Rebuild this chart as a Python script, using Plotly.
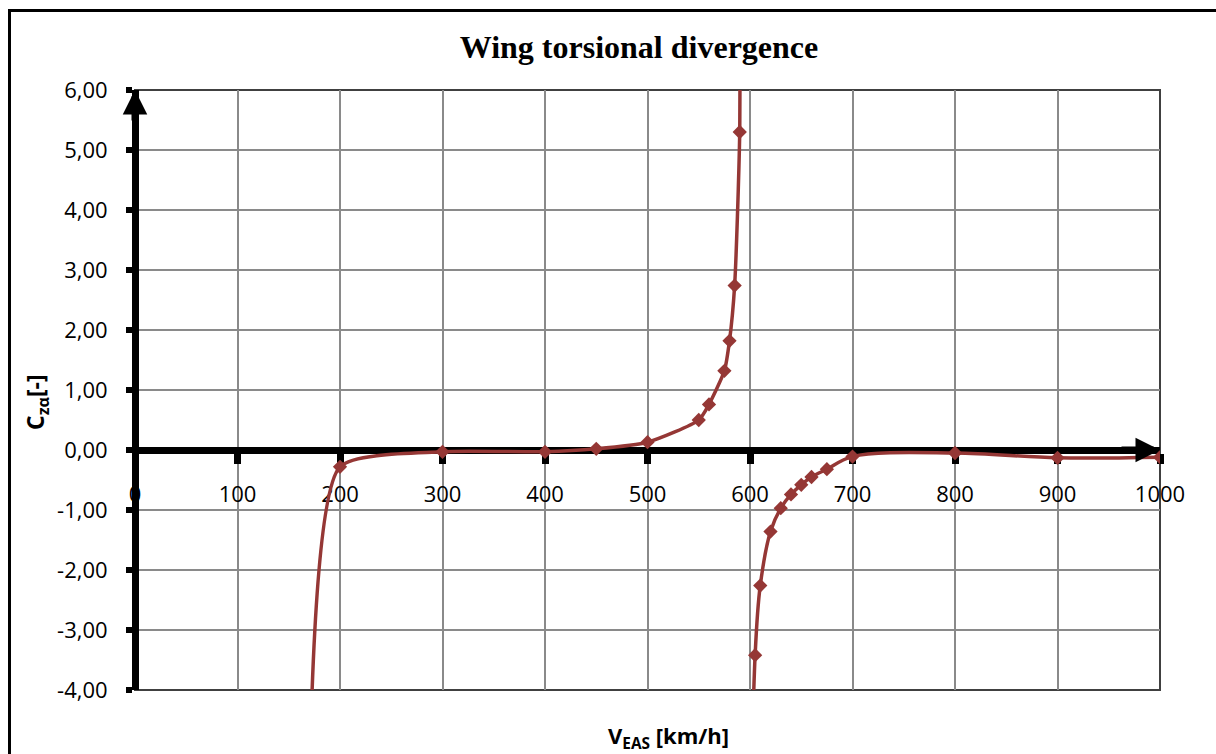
import plotly.graph_objects as go

# ---- data ----
# left branch (below divergence speed); first and last points lie off the visible range
v_left = [172, 200, 300, 400, 450, 500, 550, 560, 575, 580, 585, 590, 594]
cz_left = [-4.4, -0.28, -0.03, -0.03, 0.02, 0.13, 0.50, 0.76, 1.32, 1.82, 2.74, 5.30, 20.0]
# right branch (above divergence speed); first point lies off the visible range
v_right = [600, 605, 610, 620, 630, 640, 650, 660, 675, 700, 800, 900, 1000]
cz_right = [-7.0, -3.42, -2.26, -1.36, -0.97, -0.74, -0.58, -0.45, -0.32, -0.11, -0.05, -0.13, -0.12]

x_ticks = [0, 100, 200, 300, 400, 500, 600, 700, 800, 900, 1000]
x_tick_labels = ["0", "100", "200", "300", "400", "500", "600", "700", "800", "900", "1000"]
y_ticks = [-4, -3, -2, -1, 0, 1, 2, 3, 4, 5, 6]
y_tick_labels = ["-4,00", "-3,00", "-2,00", "-1,00", "0,00", "1,00", "2,00", "3,00", "4,00", "5,00", "6,00"]

RED = "#953735"
GRID = "#8a8a8a"
FONT = "Open Sans"

fig = go.Figure()
for xs, ys, sm in ((v_left, cz_left, 0.6), (v_right, cz_right, 1.0)):
    fig.add_trace(go.Scatter(
        x=xs, y=ys, mode="lines+markers",
        line=dict(color=RED, width=3.5, shape="spline", smoothing=sm),
        marker=dict(symbol="diamond", size=11, color=RED),
        cliponaxis=True, showlegend=False,
    ))

fig.update_layout(
    width=1216, height=754,
    margin=dict(l=135, r=56, t=90, b=64, pad=0),
    paper_bgcolor="white", plot_bgcolor="white",
    showlegend=False,
    title=dict(text="<b>Wing torsional divergence</b>", x=639 / 1216, xanchor="center",
               y=1 - 47 / 754, yanchor="middle", xref="container", yref="container",
               font=dict(family="Liberation Serif", size=32, color="black")),
)

fig.update_xaxes(
    range=[0, 1000], tickvals=x_ticks, ticktext=x_tick_labels,
    anchor="free", position=0.4, layer="below traces",
    showline=True, linecolor="black", linewidth=7,
    ticks="outside", ticklen=10, tickwidth=7, tickcolor="black",
    ticklabelstandoff=12,
    showgrid=True, gridcolor=GRID, gridwidth=2, zeroline=False,
    tickfont=dict(family=FONT, size=22, color="black"),
)
fig.update_yaxes(
    range=[-4, 6], tickvals=y_ticks, ticktext=y_tick_labels,
    anchor="free", position=0, layer="below traces",
    showline=True, linecolor="black", linewidth=7,
    ticks="outside", ticklen=6, tickwidth=6, tickcolor="black",
    ticklabelstandoff=14,
    showgrid=True, gridcolor=GRID, gridwidth=2, zeroline=False,
    tickfont=dict(family=FONT, size=22, color="black"),
)

# plot-area frame and outer chart frame
fig.add_shape(type="rect", xref="x domain", yref="y domain", x0=0, x1=1, y0=0, y1=1,
              line=dict(color="#404040", width=2), layer="below")
fig.add_shape(type="rect", xref="paper", yref="paper",
              x0=-125.5 / 1025, x1=1.2, y0=-0.3, y1=(690 - 10.5) / 600,
              line=dict(color="black", width=3))

# axis arrows
fig.add_annotation(x=0, y=6, xref="x", yref="y", ax=0, ay=32, axref="pixel", ayref="pixel",
                   text="", showarrow=True, arrowhead=2, arrowwidth=7, arrowsize=0.7,
                   arrowcolor="black", standoff=0)
fig.add_annotation(x=1000, y=0, xref="x", yref="y", ax=-40, ay=0, axref="pixel", ayref="pixel",
                   text="", showarrow=True, arrowhead=2, arrowwidth=7, arrowsize=0.7,
                   arrowcolor="black", standoff=0)

# axis titles
fig.add_annotation(x=(668 - 135) / 1025, y=-(737 - 690) / 600, xref="paper", yref="paper",
                   text="<b>V<sub>EAS</sub> [km/h]</b>", showarrow=False,
                   xanchor="center", yanchor="middle",
                   font=dict(family=FONT, size=22, color="black"))
fig.add_annotation(x=-(135 - 36) / 1025, y=(690 - 402) / 600, xref="paper", yref="paper",
                   text="<b>C<sub>zα</sub>[-]</b>", showarrow=False, textangle=-90,
                   xanchor="center", yanchor="middle",
                   font=dict(family=FONT, size=23, color="black"))

fig.write_html("out.html")
